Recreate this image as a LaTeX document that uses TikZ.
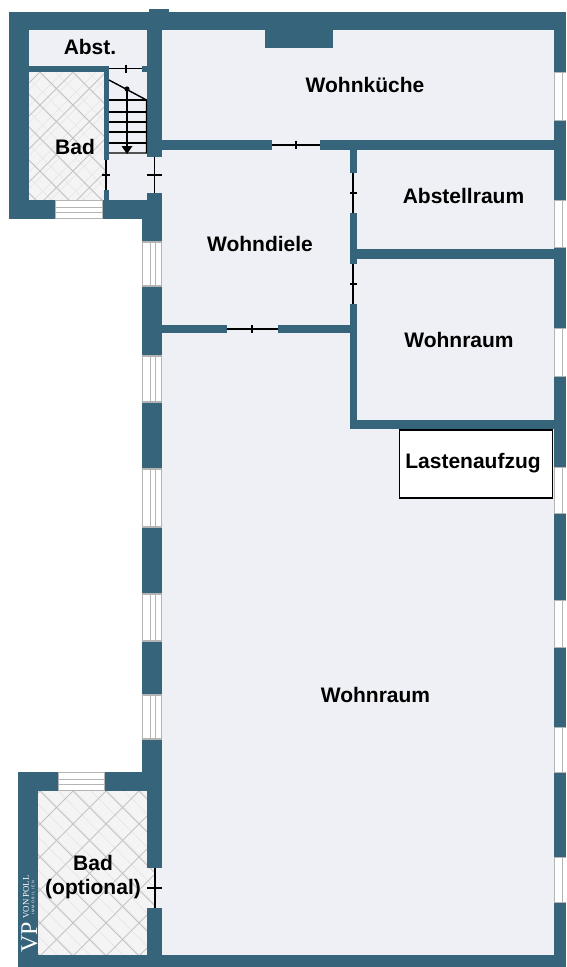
\documentclass[tikz,border=0pt]{standalone}
\usepackage{fontspec}
\setmainfont{Liberation Sans}
\newfontfamily\logofont{Liberation Serif}
\definecolor{wallc}{HTML}{36647A}
\definecolor{floorc}{HTML}{EEF0F5}
\definecolor{tilec}{HTML}{F4F4F4}
\definecolor{groutc}{HTML}{C4C4C4}
\definecolor{groutl}{HTML}{E4E4E4}
\definecolor{winc}{HTML}{B4B4B4}
\tikzset{
  wall/.style={fill=wallc,draw=none},
  floorarea/.style={fill=floorc,draw=none},
  tile/.style={fill=tilec,draw=none},
  doorline/.style={draw=black,line width=1.3pt},
  stairline/.style={draw=black,line width=1.4pt},
  winframe/.style={fill=white,draw=winc,line width=1.1pt},
  winbar/.style={draw=winc,line width=.9pt},
  roomlabel/.style={font=\fontsize{21}{23}\selectfont\bfseries,text=black,inner sep=0pt,align=center},
}
\begin{document}
\begin{tikzpicture}[x=1pt,y=-1pt]
\useasboundingbox (0,0) rectangle (566,967);
% floors
\fill[floorarea] (29,30) rectangle (147,66);
\fill[floorarea] (106,66) rectangle (147,200);
\fill[floorarea] (147,157) rectangle (162,193);
\fill[floorarea] (162,30) rectangle (554,955);
\fill[floorarea] (155,868) rectangle (162,908);
% tiled baths
\foreach \xa/\ya/\xb/\yb in {29/72/106/200, 38/791/155/955}{
  \fill[tile] (\xa,\ya) rectangle (\xb,\yb);
  \begin{scope}
    \clip (\xa,\ya) rectangle (\xb,\yb);
    \foreach \k in {-30,...,60}{
      \draw[groutl,line width=.6pt] (\k*16.5,700) -- ++(300,-300);
      \draw[groutl,line width=.6pt] (\k*16.5,700) -- ++(300,300);
      \draw[groutl,line width=.6pt] (\k*16.5,0) -- ++(300,300);
      \draw[groutl,line width=.6pt] (\k*16.5,300) -- ++(300,-300);
    }
    \foreach \k in {-30,...,30}{
      \draw[groutc,line width=1pt] (\k*33+7,\ya) -- ++(300,300);
      \draw[groutc,line width=1pt] (\k*33+7,\ya) -- ++(-300,300);
    }
  \end{scope}
}
% outer walls
\fill[wall] (9,12) rectangle (566,30);
\fill[wall] (149,9) rectangle (169,30);
\fill[wall] (9,12) rectangle (29,219);
\fill[wall] (29,200) rectangle (162,219);
\fill[wall] (147,12) rectangle (162,157);
\fill[wall] (147,193) rectangle (162,219);
\fill[wall] (142,219) rectangle (162,791);
\fill[wall] (147,791) rectangle (162,868);
\fill[wall] (147,908) rectangle (162,967);
\fill[wall] (18,772) rectangle (142,791);
\fill[wall] (18,772) rectangle (38,967);
\fill[wall] (18,955) rectangle (566,967);
\fill[wall] (554,12) rectangle (566,967);
\fill[wall] (265,30) rectangle (333,48);
% inner walls
\fill[wall] (29,66) rectangle (109,72);
\fill[wall] (142,66) rectangle (147,72);
\fill[wall] (104,66) rectangle (109,160);
\fill[wall] (104,190) rectangle (109,200);
\fill[wall] (162,140) rectangle (272,150);
\fill[wall] (320,140) rectangle (554,150);
\fill[wall] (350,150) rectangle (357,173);
\fill[wall] (350,213) rectangle (357,264);
\fill[wall] (350,304) rectangle (357,429);
\fill[wall] (357,249) rectangle (554,259);
\fill[wall] (350,420) rectangle (554,429);
\fill[wall] (162,325) rectangle (227,333);
\fill[wall] (278,325) rectangle (350,333);
% windows, left and right walls
\foreach \ya/\yb in {242/286,356/402,469/527,594/641,695/739}{
  \draw[winframe] (142.5,\ya) rectangle (161.5,\yb);
  \draw[winbar] (150.5,\ya) -- (150.5,\yb);
  \draw[winbar] (155,\ya) -- (155,\yb);
}
\foreach \ya/\yb in {72/120,200/247,328/376,467/513,600/647,727/772,857/902}{
  \fill[white] (554,\ya) rectangle (566,\yb);
  \draw[winbar,line width=1.1pt] (554.5,\ya) -- (554.5,\yb);
  \draw[winbar] (562.5,\ya) -- (562.5,\yb);
  \draw[winbar] (554,\ya) -- (566,\ya);
  \draw[winbar] (554,\yb) -- (566,\yb);
}
% windows, baths
\foreach \xa/\xb/\ya in {55/103/200,58/105/772}{
  \draw[winframe] (\xa+.5,\ya+.5) rectangle (\xb-.5,\ya+18.5);
  \draw[winbar] (\xa,\ya+7) -- (\xb,\ya+7);
  \draw[winbar] (\xa,\ya+12) -- (\xb,\ya+12);
}
% doors
\foreach \xa/\xb/\ya/\tx in {109/142/68.5/126,272/320/145/296,227/278/329/252}{
  \draw[doorline] (\xa,\ya) -- (\xb,\ya);
  \draw[doorline] (\tx,\ya-4) -- (\tx,\ya+4);
}
\foreach \x/\ya/\yb/\ty/\ta/\tb in {106/160/190/175/102/110, 154.5/157/193/175/147/162, 353/173/213/193/350/357, 353/264/304/284/350/357, 155/868/908/888/147/162}{
  \draw[doorline] (\x,\ya) -- (\x,\yb);
  \draw[doorline] (\ta,\ty) -- (\tb,\ty);
}
% stairs
\draw[stairline] (109,80) -- (146.5,100) -- (146.5,153) -- (109,153);
\foreach \y in {100,112,122,132,143}{ \draw[stairline] (109,\y) -- (146.5,\y); }
\draw[stairline] (127,89) -- (127,148);
\fill[black] (127,89) circle (2.6);
\fill[black] (121.5,146) -- (132.5,146) -- (127,154) -- cycle;
% lift
\node[draw=black,fill=white,line width=1.4pt,minimum width=153.5pt,minimum height=68pt,inner sep=0pt] (lift) at (476,464) {};
% labels
\node[roomlabel] (abst) at (90,47) {Abst.};
\node[roomlabel] (bad1) at (75,147) {Bad};
\node[roomlabel] (kueche) at (365,85) {Wohnküche};
\node[roomlabel] (abstell) at (463.5,196) {Abstellraum};
\node[roomlabel] (diele) at (260,244) {Wohndiele};
\node[roomlabel] (raum1) at (459,340) {Wohnraum};
\node[roomlabel] (aufzug) at (473,463) {Lastenaufzug};
\node[roomlabel] (raum2) at (375.5,695) {Wohnraum};
\node[roomlabel,font=\fontsize{21}{24}\selectfont\bfseries] (bad2) at (93,877) {Bad\\(optional)};
% logo
\node[rotate=90,text=white,inner sep=0pt,font=\logofont\fontsize{24}{24}\selectfont] (logovp) at (29.5,937) {VP};
\node[rotate=90,text=white,inner sep=0pt,font=\logofont\fontsize{8.8}{10}\selectfont] (logoname) at (26,897) {VON POLL};
\node[rotate=90,text=white,inner sep=0pt,font=\fontsize{3.8}{5}\selectfont] (logosub) at (33,898) {I\,\,M\,\,M\,\,O\,\,B\,\,I\,\,L\,\,I\,\,E\,\,N};
\end{tikzpicture}
\end{document}
